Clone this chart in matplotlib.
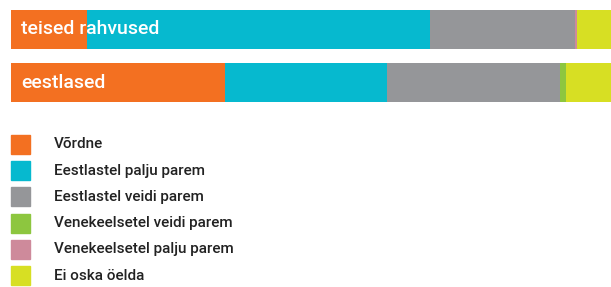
import matplotlib
matplotlib.use("Agg")
import matplotlib.pyplot as plt
from matplotlib.patches import Rectangle

groups = ["teised rahvused", "eestlased"]
categories = ["Võrdne", "Eestlastel palju parem", "Eestlastel veidi parem",
              "Venekeelsetel veidi parem", "Venekeelsetel palju parem", "Ei oska öelda"]
colors = ["#F37021", "#06B9CF", "#959699", "#8DC63F", "#CE8A9B", "#D7DF23"]
# percent per category, per group
values = {
    "teised rahvused": [12.7, 57.1, 24.2, 0.0, 0.4, 5.6],
    "eestlased":       [35.7, 27.0, 28.8, 1.0, 0.0, 7.5],
}

W, H = 611, 287
fig = plt.figure(figsize=(W / 100, H / 100), dpi=100)
fam = ["Roboto", "DejaVu Sans"]

ax = fig.add_axes([11 / W, (H - 102) / H, 1 - 11 / W, 92 / H])
bh = 39 / 53
for i, g in enumerate(groups):
    left = 0
    for v, c in zip(values[g], colors):
        ax.barh(i, v, left=left, height=bh, color=c, linewidth=0)
        left += v
    ax.text(1.7, i, g, color="white", fontsize=14, va="center", ha="left",
            family=fam, fontweight="medium")
ax.set_xlim(0, 100)
ax.set_ylim(1 + bh / 2, -bh / 2)
ax.axis("off")

for i, (lab, c) in enumerate(zip(categories, colors)):
    y = 135 + 26.2 * i
    fig.patches.append(Rectangle((11 / W, 1 - (y + 19) / H), 19 / W, 19 / H,
                                 transform=fig.transFigure, color=c, figure=fig))
    fig.text(54 / W, 1 - (y + 9.5) / H, lab, fontsize=11, color="#222222",
             va="center", ha="left", family=fam, fontweight="medium")

fig.savefig("out.png", dpi=100)
